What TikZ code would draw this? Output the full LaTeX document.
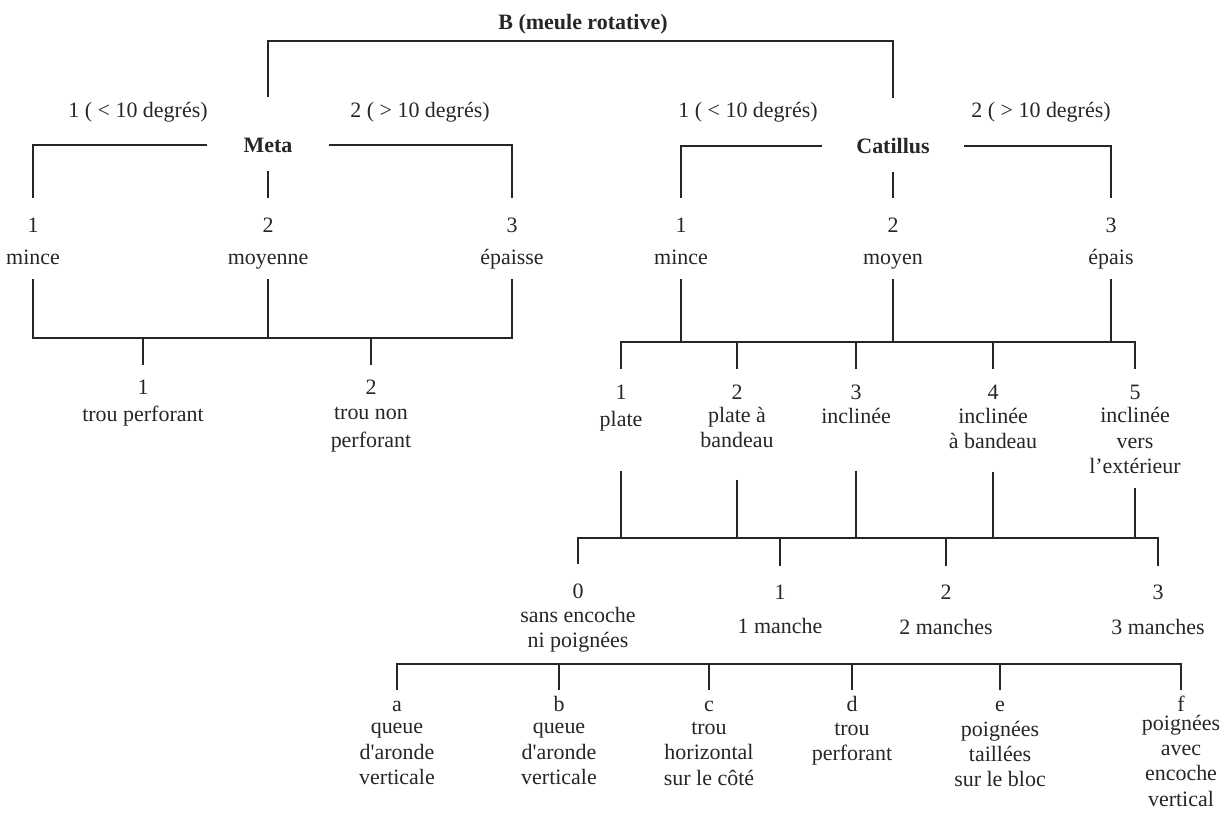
\documentclass[tikz,border=0pt]{standalone}
\usepackage{fontspec}
\setmainfont{Liberation Serif}
\usetikzlibrary{positioning,calc}
\newcommand\treefont{\fontsize{12.5}{14.3}\selectfont}

\begin{document}
\begin{tikzpicture}[x=0.02cm, y=-0.02cm, font=\treefont, color=black!85, line width=0.6pt]
	\tikzstyle{lab}=[align=center, inner sep=0pt, execute at begin node=\strut, execute at end node=\strut]
	\tikzstyle{head}=[font=\treefont\bfseries, inner sep=0pt, minimum height=1.02cm]
	\tikzset{tip/.style={shorten >=#1}, foot/.style={shorten <=#1}}
	\useasboundingbox (0,0) rectangle (1227,814);

	% top split
	\node[lab, font=\treefont\bfseries] (root) at (583,24) {B (meule rotative)};
	\coordinate (rootbar) at (583,41);
	\node[head, minimum width=2.4cm] (meta) at (268,145) {Meta};
	\node[head, minimum width=2.82cm] (catillus) at (893,146) {Catillus};
	\draw[foot=0.43cm, tip=0.43cm] (meta.north) |- (rootbar) -| (catillus.north);

	\node[lab] (dm1) at (138,112.5) {1 ( < 10 degrés)};
	\node[lab] (dm2) at (420,112.5) {2 ( > 10 degrés)};
	\node[lab] (dc1) at (748,112.5) {1 ( < 10 degrés)};
	\node[lab] (dc2) at (1041,112.5) {2 ( > 10 degrés)};

	% Meta
	\node[lab] (mn1) at (33,227.5) {1};
	\node[lab] (mt1) at (33,259.1) {mince};
	\node[lab] (mn2) at (268,227.5) {2};
	\node[lab] (mt2) at (268,259.1) {moyenne};
	\node[lab] (mn3) at (512,227.5) {3};
	\node[lab] (mt3) at (512,259.1) {épaisse};

	\draw[tip=0.33cm] (meta.west) -| (mn1.north);
	\draw[tip=0.33cm] (meta.south) -- (mn2.north);
	\draw[tip=0.33cm] (meta.east) -| (mn3.north);

	\coordinate (mbar) at (268,338);
	\draw[foot=0.14cm, tip=0.14cm] (mt1.south) |- (mbar) -| (mt3.south);
	\draw[foot=0.14cm] (mt2.south) -- (mbar);

	\node[lab] (mr1) at (143,389.5) {1};
	\node[lab] (mrt1) at (143,416.1) {trou perforant};
	\node[lab] (mr2) at (371,389.5) {2};
	\node[lab] (mrt2) at (371,431.1) {trou non\\[2pt]perforant};
	\foreach \n in {mr1,mr2}
		\draw[tip=0.22cm] (\n |- mbar) -- (\n.north);

	% Catillus
	\node[lab] (cn1) at (681,227.5) {1};
	\node[lab] (ct1) at (681,259.1) {mince};
	\node[lab] (cn2) at (893,227.5) {2};
	\node[lab] (ct2) at (893,259.1) {moyen};
	\node[lab] (cn3) at (1111,227.5) {3};
	\node[lab] (ct3) at (1111,259.1) {épais};

	\draw[tip=0.33cm] (catillus.west) -| (cn1.north);
	\draw[tip=0.33cm] (catillus.south) -- (cn2.north);
	\draw[tip=0.33cm] (catillus.east) -| (cn3.north);

	\node[lab] (cp1) at (621,394.5) {1};
	\node[lab] (cpt1) at (621,421.1) {plate};
	\node[lab] (cp2) at (737,394.5) {2};
	\node[lab] (cpt2) at (737,431.4) {plate à\\bandeau};
	\node[lab] (cp3) at (856,394.5) {3};
	\node[lab] (cpt3) at (856,418.1) {inclinée};
	\node[lab] (cp4) at (993,394.5) {4};
	\node[lab] (cpt4) at (993,432.4) {inclinée\\à bandeau};
	\node[lab] (cp5) at (1135,394.5) {5};
	\node[lab] (cpt5) at (1135,444.2) {inclinée\\vers\\l'extérieur};

	\coordinate (cbar) at (893,342);
	\foreach \n in {ct1,ct2,ct3}
		\draw[foot=0.14cm] (\n.south) -- (\n.south |- cbar);
	\draw[foot=0.24cm, tip=0.24cm] (cp1.north) |- (cbar) -| (cp5.north);
	\foreach \n in {cp2,cp3,cp4}
		\draw[tip=0.24cm] (\n |- cbar) -- (\n.north);

	% handles
	\node[lab] (hn0) at (578,593) {0};
	\node[lab] (hnt0) at (578,631) {sans encoche\\ni poignées};
	\node[lab] (hn1) at (780,594.5) {1};
	\node[lab] (hnt1) at (780,628.1) {1 manche};
	\node[lab] (hn2) at (946,594.5) {2};
	\node[lab] (hnt2) at (946,629.1) {2 manches};
	\node[lab] (hn3) at (1158,594.5) {3};
	\node[lab] (hnt3) at (1158,629.1) {3 manches};

	\coordinate (hbar) at (868,538);
	\foreach \n/\s in {cpt1/0.73cm, cpt2/0.48cm, cpt3/0.79cm, cpt4/0.30cm, cpt5/0.14cm}
		\draw[foot=\s] (\n.south) -- (\n.south |- hbar);
	\draw[foot=0.31cm, tip=0.31cm] (hn0.north) |- (hbar) -| (hn3.north);
	\foreach \n in {hn1,hn2}
		\draw[tip=0.31cm] (\n |- hbar) -- (\n.north);

	% fixings
	\node[lab] (la) at (397,706.1) {a};
	\node[lab] (lta) at (397,757.5) {queue\\d\textquotesingle aronde\\verticale};
	\node[lab] (lb) at (559,706.1) {b};
	\node[lab] (ltb) at (559,757.5) {queue\\d\textquotesingle aronde\\verticale};
	\node[lab] (lc) at (709,706.1) {c};
	\node[lab] (ltc) at (709,757.5) {trou\\horizontal\\sur le côté};
	\node[lab] (ld) at (852,706.1) {d};
	\node[lab] (ltd) at (852,745.5) {trou\\perforant};
	\node[lab] (le) at (1000,706.1) {e};
	\node[lab] (lte) at (1000,757.5) {poignées\\taillées\\sur le bloc};
	\node[lab] (lf) at (1181,706.1) {f};
	\node[lab] (ltf) at (1181,764.5) {poignées\\avec\\encoche\\vertical};

	\coordinate (lbar) at (789,664);
	\draw[foot=0.06cm, tip=0.06cm] (la.north) |- (lbar) -| (lf.north);
	\foreach \n in {lb,lc,ld,le}
		\draw[tip=0.06cm] (\n |- lbar) -- (\n.north);
\end{tikzpicture}
\end{document}
